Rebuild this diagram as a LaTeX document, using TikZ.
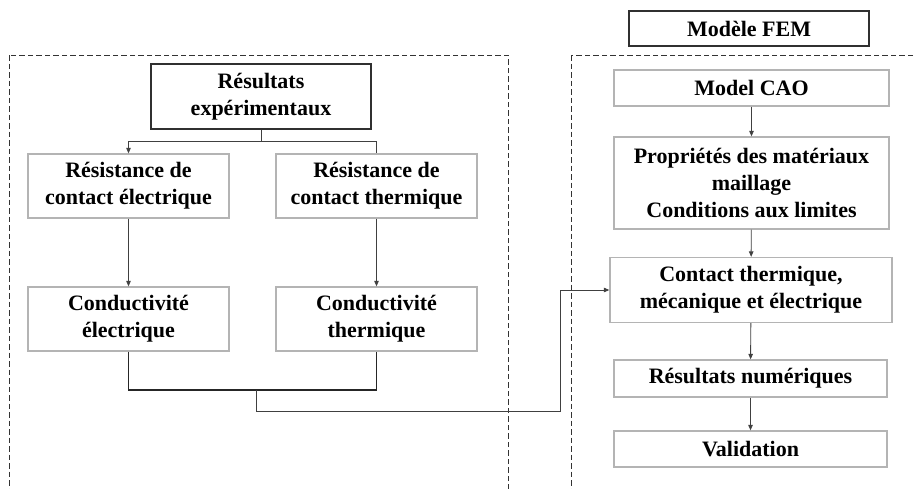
\documentclass[tikz,border=0pt]{standalone}
\usepackage{fontspec}
\setmainfont{Liberation Serif}
\usetikzlibrary{arrows.meta}
\definecolor{lightbox}{HTML}{B4B4B4}
\definecolor{darkbox}{HTML}{303030}
\definecolor{conn}{HTML}{404040}
\tikzset{
  lbl/.style={font=\bfseries\fontsize{22}{27}\selectfont, align=center, inner sep=0pt},
  softbox/.style={lbl, draw=lightbox, line width=1.3pt},
  hardbox/.style={lbl, draw=darkbox, line width=1.1pt},
  link/.style={draw=conn, line width=0.9pt},
  boldlink/.style={draw=black!85, line width=1.4pt},
  arr/.style={link, -{Triangle[length=5.5pt,width=4.5pt]}},
  frame/.style={draw=black!80, line width=0.7pt, dash pattern=on 5.5pt off 3pt},
}
\begin{document}
\begin{tikzpicture}[x=1pt, y=-1pt]
\useasboundingbox (0,0) rectangle (915,488);
\fill[white] (0,0) rectangle (915,488);
\begin{scope}
\clip (0,0) rectangle (915,488);
\draw[frame] (9,55) rectangle (508,520);
\draw[frame] (571,55) rectangle (940,520);
\end{scope}
% left column
\node[hardbox, minimum width=220pt, minimum height=65pt] (res) at (261,96.5) {Résultats\\expérimentaux};
\node[softbox, minimum width=201pt, minimum height=64pt] (rce) at (128.5,186) {Résistance de\\contact électrique};
\node[softbox, minimum width=201pt, minimum height=64pt] (rct) at (376.5,186) {Résistance de\\contact thermique};
\node[softbox, minimum width=201pt, minimum height=64pt] (ce) at (128.5,319) {Conductivité\\électrique};
\node[softbox, minimum width=201pt, minimum height=64pt] (ct) at (376.5,319) {Conductivité\\thermique};
% right column
\node[hardbox, minimum width=240pt, minimum height=35pt] (fem) at (749,28.5) {Modèle FEM};
\node[softbox, minimum width=275pt, minimum height=36pt] (cao) at (751.5,88) {Model CAO};
\node[softbox, minimum width=275pt, minimum height=92pt] (prop) at (751.5,183) {Propriétés des matériaux\\maillage\\Conditions aux limites};
\node[softbox, minimum width=282pt, minimum height=65pt] (contact) at (751,290) {Contact thermique,\\mécanique et électrique};
\node[softbox, minimum width=273pt, minimum height=37pt] (num) at (750.5,378.5) {Résultats numériques};
\node[softbox, minimum width=273pt, minimum height=36pt] (valid) at (750.5,449) {Validation};
% coordinates
\coordinate (split) at (261,141);
\coordinate (splitL) at (128.5,141);
\coordinate (splitR) at (376.5,141);
\coordinate (joinL) at (128.5,390);
\coordinate (joinR) at (376.5,390);
\coordinate (joinM) at (256,390);
\coordinate (lowM) at (256,411);
\coordinate (lowR) at (560,411);
\coordinate (upR) at (560,290);
% connectors
\draw[link] (res.south) -- (split);
\draw[arr] (split) -- (splitL) -- (rce.north);
\draw[link] (split) -- (splitR) -- (rct.north);
\draw[arr] (rce) -- (ce);
\draw[arr] (rct) -- (ct);
\draw[boldlink] (ce.south) -- (joinL) -- (joinR) -- (ct.south);
\draw[link] (joinM) -- (lowM) -- (lowR) -- (upR);
\draw[arr] (upR) -- (contact.west);
\draw[arr] (cao) -- (prop);
\draw[arr] (prop) -- (contact);
\draw[arr] (contact) -- (num);
\draw[arr] (num) -- (valid);
\end{tikzpicture}
\end{document}
